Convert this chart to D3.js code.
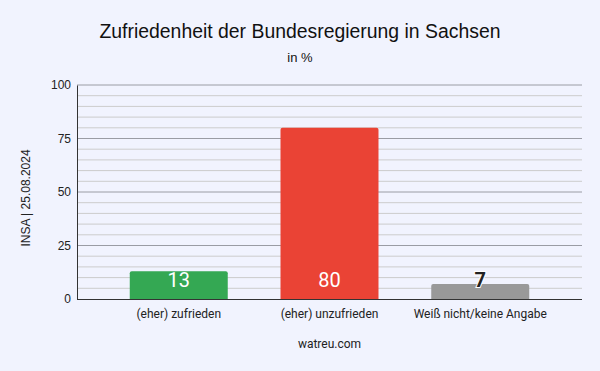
<!DOCTYPE html>
<html>
<head>
<meta charset="utf-8">
<script src="https://cdn.jsdelivr.net/npm/d3@7"></script>
<style>
  body { margin: 0; background: #f1f3fe; }
  svg { display: block; font-family: "Liberation Sans", Arial, sans-serif; }
</style>
</head>
<body>
<div id="chart"></div>
<script>
// data
const categories = ["(eher) zufrieden", "(eher) unzufrieden", "Weiß nicht/keine Angabe"];
const values = [13, 80, 7];
const barColors = ["#34a853", "#ea4335", "#999999"];
const yTicks = [0, 25, 50, 75, 100];
const minorTicks = d3.range(0, 101, 5);

const width = 600, height = 371;
const margin = { top: 85, right: 18, bottom: 72, left: 77 };

const svg = d3.select("#chart").append("svg")
  .attr("width", width)
  .attr("height", height);

svg.append("rect").attr("width", width).attr("height", height).attr("fill", "#f1f3fe");

const x = d3.scaleBand()
  .domain(categories)
  .range([margin.left, width - margin.right])
  .paddingInner(0.35)
  .paddingOuter(0.35);

const y = d3.scaleLinear()
  .domain([0, 100])
  .range([height - margin.bottom, margin.top]);

// minor gridlines
svg.append("g")
  .selectAll("line")
  .data(minorTicks.filter(d => !yTicks.includes(d)))
  .join("line")
  .attr("x1", margin.left).attr("x2", width - margin.right)
  .attr("y1", d => y(d)).attr("y2", d => y(d))
  .attr("stroke", "#cccccc");

// major gridlines
svg.append("g")
  .selectAll("line")
  .data(yTicks.filter(d => d > 0))
  .join("line")
  .attr("x1", margin.left).attr("x2", width - margin.right)
  .attr("y1", d => y(d)).attr("y2", d => y(d))
  .attr("stroke", "#9a9ca4");

// y axis
const yAxis = svg.append("g")
  .attr("transform", `translate(${margin.left},0)`)
  .call(d3.axisLeft(y).tickValues(yTicks).tickSize(0).tickPadding(6));
yAxis.select(".domain").attr("stroke", "#333");
yAxis.selectAll("text").attr("font-size", 12).attr("fill", "#222")
  .attr("font-family", "'Liberation Sans', Arial, sans-serif");

// bars, top corners slightly rounded
const r = 2;
svg.append("g")
  .selectAll("path")
  .data(values)
  .join("path")
  .attr("fill", (d, i) => barColors[i])
  .attr("d", (d, i) => {
    const x0 = x(categories[i]), w = x.bandwidth();
    const y0 = y(d), y1 = y(0);
    return `M${x0},${y1}V${y0 + r}Q${x0},${y0} ${x0 + r},${y0}H${x0 + w - r}Q${x0 + w},${y0} ${x0 + w},${y0 + r}V${y1}Z`;
  });

// x axis
const xAxis = svg.append("g")
  .attr("transform", `translate(0,${y(0)})`)
  .call(d3.axisBottom(x).tickSize(0).tickPadding(10).tickSizeOuter(0));
xAxis.select(".domain").attr("stroke", "#333").attr("d", `M${margin.left},0.5H${width - margin.right}`);
xAxis.selectAll("text").attr("font-size", 12).attr("fill", "#222")
  .attr("font-family", "Roboto, sans-serif");

// value labels (at the base of each bar)
svg.append("g")
  .selectAll("text")
  .data(values)
  .join("text")
  .attr("x", (d, i) => x(categories[i]) + x.bandwidth() / 2)
  .attr("y", y(0) - 12)
  .attr("text-anchor", "middle")
  .attr("font-family", "Roboto, sans-serif")
  .attr("font-size", 20)
  .attr("font-weight", d => y(0) - y(d) < 20 ? "bold" : "normal")
  .attr("fill", d => y(0) - y(d) < 20 ? "#222" : "#fff")
  .attr("stroke", d => y(0) - y(d) < 20 ? "#fff" : "none")
  .attr("stroke-width", 2)
  .attr("paint-order", "stroke")
  .text(d => d);

// titles
svg.append("text")
  .attr("x", width / 2).attr("y", 38)
  .attr("text-anchor", "middle")
  .attr("font-size", 19.4).attr("fill", "#111")
  .text("Zufriedenheit der Bundesregierung in Sachsen");

svg.append("text")
  .attr("x", width / 2).attr("y", 62)
  .attr("text-anchor", "middle")
  .attr("font-size", 13).attr("fill", "#111")
  .text("in %");

svg.append("text")
  .attr("transform", `translate(30,${(margin.top + height - margin.bottom) / 2 + 6}) rotate(-90)`)
  .attr("text-anchor", "middle")
  .attr("font-size", 12).attr("fill", "#222")
  .text("INSA | 25.08.2024");

svg.append("text")
  .attr("x", (margin.left + width - margin.right) / 2).attr("y", 348)
  .attr("text-anchor", "middle")
  .attr("font-family", "Roboto, sans-serif")
  .attr("font-size", 12).attr("fill", "#222")
  .text("watreu.com");
</script>
</body>
</html>
